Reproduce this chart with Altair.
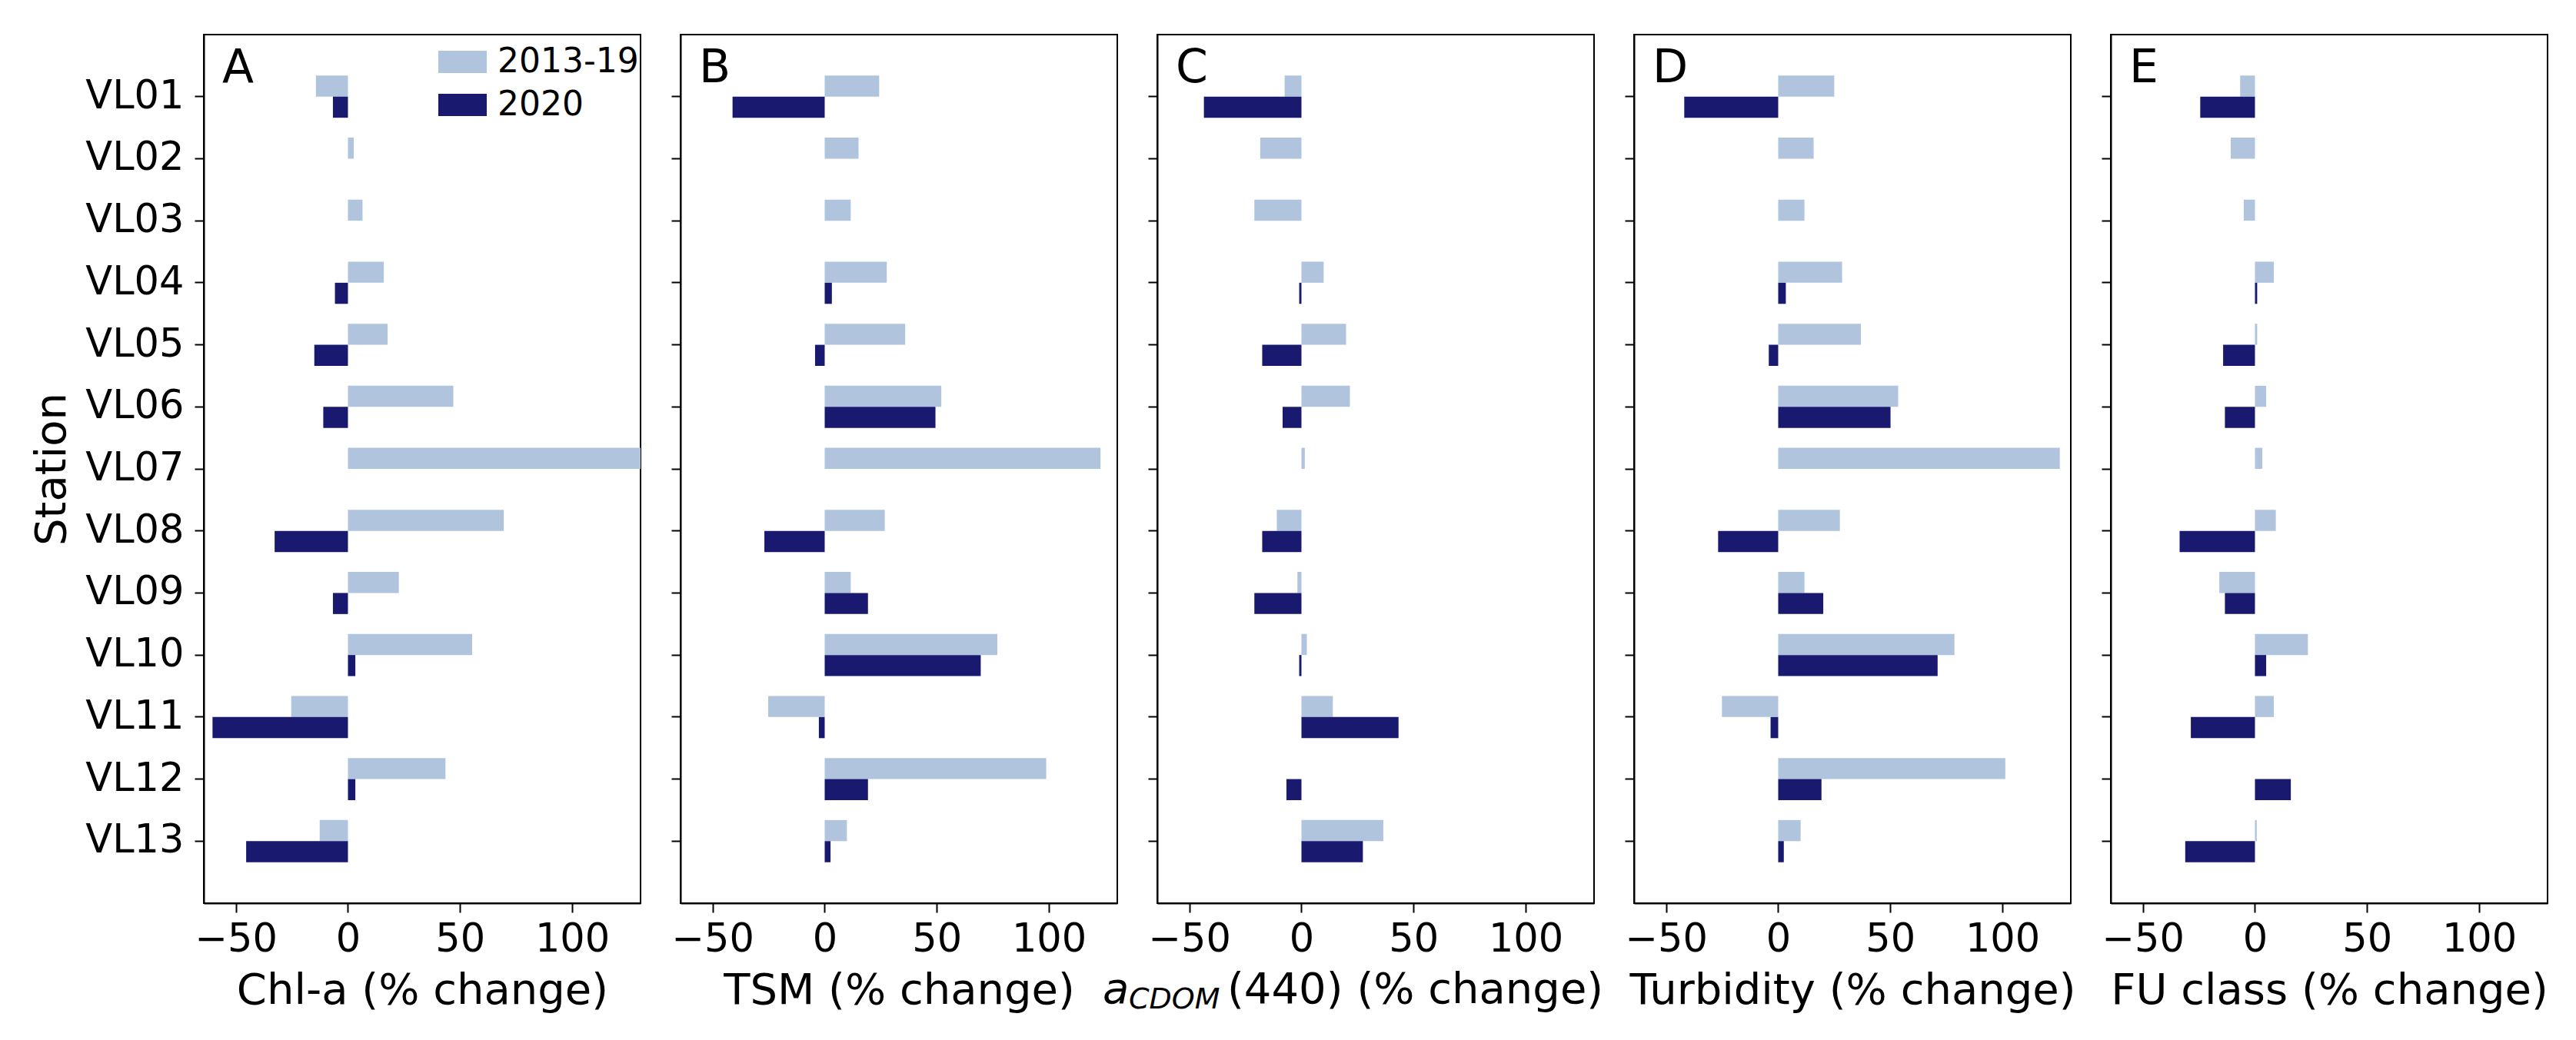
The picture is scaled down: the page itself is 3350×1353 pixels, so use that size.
import altair as alt
import pandas as pd

stations = ["VL01", "VL02", "VL03", "VL04", "VL05", "VL06", "VL07",
            "VL08", "VL09", "VL10", "VL11", "VL12", "VL13"]
periods = ["2013-19", "2020"]
colors = ["#b0c4de", "#191970"]

chl_hist = [-14.3, 2.6, 6.5, 16.0, 17.7, 47.0, 140.0, 69.5, 22.7, 55.4, -25.3, 43.5, -12.6]
chl_2020 = [-6.7, None, None, -5.8, -15.0, -11.0, None, -32.7, -6.7, 3.3, -60.4, 3.3, -45.4]
tsm_hist = [24.3, 15.1, 11.6, 27.7, 35.9, 52.0, 123.0, 26.8, 11.6, 77.0, -25.2, 98.8, 9.9]
tsm_2020 = [-41.1, None, None, 3.2, -4.3, 49.4, None, -26.9, 19.3, 69.6, -2.6, 19.3, 2.6]
cdom_hist = [-7.5, -18.4, -21.0, 9.9, 19.9, 21.6, 1.5, -11.0, -1.8, 2.4, 14.0, None, 36.5]
cdom_2020 = [-43.5, None, None, -1.0, -17.5, -8.4, None, -17.5, -21.0, -1.0, 43.3, -6.7, 27.4]
turb_hist = [25.0, 15.8, 11.7, 28.5, 36.9, 53.5, 125.6, 27.5, 11.7, 78.6, -25.1, 101.3, 10.0]
turb_2020 = [-41.9, None, None, 3.4, -4.2, 50.1, None, -26.8, 20.1, 71.1, -3.4, 19.3, 2.5]
fu_hist = [-6.6, -10.8, -5.0, 8.4, 1.0, 5.0, 3.3, 9.3, -15.9, 23.6, 8.4, None, 0.8]
fu_2020 = [-24.4, None, None, 1.0, -14.2, -13.4, None, -33.6, -13.4, 5.0, -28.6, 16.0, -31.1]

panels = [
    ("A", "Chl-a (% change)", chl_hist, chl_2020),
    ("B", "TSM (% change)", tsm_hist, tsm_2020),
    ("C", None, cdom_hist, cdom_2020),
    ("D", "Turbidity (% change)", turb_hist, turb_2020),
    ("E", "FU class (% change)", fu_hist, fu_2020),
]

W, H = 568, 1130
FONT = "DejaVu Sans"
LABEL_FS = 51
TITLE_FS = 56


def make_df(hist, cur):
    rows = []
    for s, a, b in zip(stations, hist, cur):
        if a is not None:
            rows.append({"station": s, "period": periods[0], "value": a})
        if b is not None:
            rows.append({"station": s, "period": periods[1], "value": b})
    return pd.DataFrame(rows)


def panel(i, letter, xtitle, hist, cur):
    df = make_df(hist, cur)
    first = i == 0
    xaxis_kwargs = dict(values=[-50, 0, 50, 100], labelFontSize=LABEL_FS, labelFont=FONT,
                        labelColor="black", tickColor="black", tickSize=12, tickWidth=2,
                        labelPadding=10, domainColor="black", domainWidth=2, grid=False,
                        titleFontSize=TITLE_FS, titleFont=FONT, titleFontWeight="normal",
                        titleColor="black", titlePadding=14, labelFlush=False)
    if first:
        yaxis = alt.Axis(labelFontSize=LABEL_FS, labelFont=FONT, labelColor="black",
                         tickColor="black", tickSize=12, tickWidth=2, labelPadding=14,
                         domainColor="black", domainWidth=2, grid=False,
                         titleFontSize=TITLE_FS, titleFont=FONT, titleFontWeight="normal",
                         titleColor="black", titlePadding=14)
        ytitle = "Station"
    else:
        yaxis = alt.Axis(labels=False, tickColor="black", tickSize=12, tickWidth=2,
                         domainColor="black", domainWidth=2, grid=False)
        ytitle = None
    if first:
        legend = alt.Legend(orient="none", legendX=305, legendY=4, padding=0, title=None,
                            symbolType="M-1,-0.46H1V0.46H-1Z", symbolSize=3969,
                            symbolStrokeWidth=0, symbolOpacity=1,
                            labelFontSize=44, labelFont=FONT, labelColor="black",
                            labelOffset=14, rowPadding=2, labelLimit=500)
    else:
        legend = None

    xenc = alt.X("value:Q",
                 scale=alt.Scale(domain=[-64.3, 130.5], nice=False, zero=False),
                 axis=alt.Axis(**xaxis_kwargs),
                 title=xtitle)
    bars = alt.Chart(df).mark_bar(clip=True).encode(
        x=xenc,
        y=alt.Y("station:N", sort=stations,
                scale=alt.Scale(domain=stations, paddingInner=0.32, paddingOuter=0.66),
                axis=yaxis, title=ytitle),
        yOffset=alt.YOffset("period:N", sort=periods,
                            scale=alt.Scale(domain=periods, paddingInner=0, paddingOuter=0)),
        color=alt.Color("period:N", scale=alt.Scale(domain=periods, range=colors),
                        legend=legend),
    )
    lab = alt.Chart(pd.DataFrame({"t": [letter]})).mark_text(
        align="left", baseline="alphabetic", fontSize=60, font=FONT, color="black"
    ).encode(x=alt.value(24), y=alt.value(62), text="t:N")
    layers = [bars, lab]
    if xtitle is None:
        tdf_a = pd.DataFrame({"t": ["a"]})
        tdf_s = pd.DataFrame({"t": ["CDOM"]})
        tdf_r = pd.DataFrame({"t": ["(440) (% change)"]})
        layers.append(alt.Chart(tdf_a).mark_text(
            align="left", baseline="alphabetic", fontSize=TITLE_FS, font=FONT,
            fontStyle="italic", color="black").encode(
            x=alt.value(-71), y=alt.value(H + 130), text="t:N"))
        layers.append(alt.Chart(tdf_s).mark_text(
            align="left", baseline="alphabetic", fontSize=38, font=FONT,
            fontStyle="italic", color="black").encode(
            x=alt.value(-37), y=alt.value(H + 137), text="t:N"))
        layers.append(alt.Chart(tdf_r).mark_text(
            align="left", baseline="alphabetic", fontSize=TITLE_FS, font=FONT,
            color="black").encode(
            x=alt.value(91), y=alt.value(H + 130), text="t:N"))
    return alt.layer(*layers).properties(width=W, height=H)


charts = [panel(i, *p) for i, p in enumerate(panels)]

chart = alt.hconcat(*charts, spacing=52, bounds="flush").resolve_scale(
    color="independent").resolve_legend(color="independent").configure(
    font=FONT, padding={"left": 30, "top": 36, "right": 5, "bottom": 5},
    background="white").configure_view(stroke="black", strokeWidth=2)

chart.save("out.html", embed_options={"renderer": "svg", "actions": False})
